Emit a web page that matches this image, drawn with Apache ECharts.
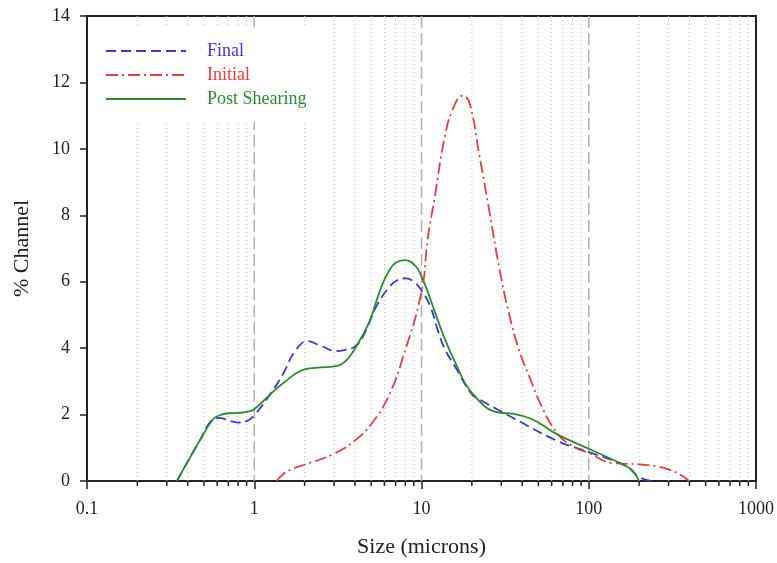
<!DOCTYPE html>
<html>
<head>
<meta charset="utf-8">
<script src="https://cdn.jsdelivr.net/npm/echarts@6/dist/echarts.min.js"></script>
<style>
html,body{margin:0;padding:0;background:#fff;}
#chart{width:777px;height:563px;}
</style>
</head>
<body>
<div id="chart"></div>
<script>
// ---- Data ----
const seriesNames = ['Final', 'Initial', 'Post Shearing'];

const finalSize = [0.345, 0.47, 0.565, 0.62, 0.7, 0.8, 0.9, 1.0, 1.24, 1.5, 1.75, 2.08, 2.5, 3.1, 3.5, 4.0, 4.47, 5.36, 6.44, 7.2, 8.1, 9.0, 9.8, 11.2, 12.5, 13.7, 15.8, 20, 22.2, 29, 35, 64, 100, 167, 200, 236];
const finalPct  = [0, 1.2, 1.85, 1.9, 1.82, 1.76, 1.8, 1.98, 2.6, 3.26, 3.9, 4.21, 4.07, 3.91, 3.95, 4.05, 4.35, 5.25, 5.85, 6.05, 6.1, 6.0, 5.8, 5.3, 4.55, 4.0, 3.46, 2.61, 2.46, 2.13, 1.91, 1.22, 0.87, 0.45, 0.12, 0];

const initialSize = [1.36, 1.5, 1.7, 2, 3, 4, 5, 6.3, 7.73, 10, 10.9, 11.96, 13.7, 15.4, 17.65, 19.35, 22.2, 25.5, 29.2, 33.5, 38.5, 45.2, 50.6, 64, 80, 100, 138, 200, 260, 300, 350, 398];
const initialPct  = [0, 0.22, 0.37, 0.49, 0.82, 1.22, 1.71, 2.51, 3.71, 5.7, 7.3, 8.5, 10.3, 11.2, 11.6, 11.39, 9.79, 8.1, 6.4, 5.0, 3.91, 3.01, 2.4, 1.47, 1.05, 0.84, 0.54, 0.5, 0.43, 0.35, 0.2, 0];

const postSize = [0.345, 0.47, 0.565, 0.62, 0.7, 0.8, 0.9, 1.0, 1.24, 1.5, 2.0, 2.5, 3.0, 3.5, 4.07, 4.89, 5.36, 5.87, 6.44, 7.0, 7.92, 9.3, 10, 10.7, 12.2, 13.5, 15.8, 20, 29, 35, 46, 64, 100, 167, 185, 200];
const postPct  = [0, 1.2, 1.85, 1.98, 2.04, 2.05, 2.08, 2.16, 2.6, 2.96, 3.36, 3.42, 3.45, 3.6, 4.05, 4.8, 5.4, 5.95, 6.35, 6.57, 6.65, 6.45, 6.15, 5.8, 5.0, 4.4, 3.6, 2.66, 2.06, 2.03, 1.86, 1.42, 0.97, 0.45, 0.28, 0];

const yTicks = [0, 2, 4, 6, 8, 10, 12, 14];
const xMajorTicks = ['0.1', '1', '10', '100', '1000'];
const majorGridValues = [1, 10, 100];
const minorTickValues = [0.2,0.3,0.4,0.5,0.6,0.7,0.8,0.9, 2,3,4,5,6,7,8,9, 20,30,40,50,60,70,80,90, 200,300,400,500,600,700,800,900];

// ---- Chart ----
const FONT = '"Liberation Serif", "Times New Roman", serif';
const colors = { 'Final': '#3a3ad6', 'Initial': '#e63e3e', 'Post Shearing': '#2e8a2e' };

function zip(xs, ys) { return xs.map((x, i) => [x, ys[i]]); }

function gridSeries(name, values, gridStyle, tickLen) {
  return {
    type: 'custom', name: name, silent: true, clip: false, z: 1,
    data: values.map(v => [v, 0]),
    encode: { x: 0, y: 1 },
    renderItem: function (params, api) {
      const v = api.value(0);
      const top = api.coord([v, yTicks[yTicks.length - 1]]);
      const bot = api.coord([v, yTicks[0]]);
      const children = [
        { type: 'line', shape: { x1: bot[0], y1: top[1], x2: bot[0], y2: bot[1] }, style: gridStyle }
      ];
      if (tickLen > 0) {
        children.push({ type: 'line', shape: { x1: bot[0], y1: bot[1], x2: bot[0], y2: bot[1] + tickLen },
          style: { stroke: '#222', lineWidth: 1.5 } });
      }
      return { type: 'group', children: children };
    }
  };
}

const chart = echarts.init(document.getElementById('chart'), null, { renderer: 'canvas' });

const option = {
  animation: false,
  backgroundColor: '#fff',
  grid: { left: 87, right: 20, top: 16, bottom: 79, show: true, borderColor: '#222', borderWidth: 2, backgroundColor: 'transparent' },
  legend: {
    data: seriesNames.map(n => ({ name: n, textStyle: { color: colors[n] } })),
    orient: 'vertical',
    left: 88, top: 27,
    padding: [15, 10, 14, 17],
    itemWidth: 80, itemHeight: 14, itemGap: 6,
    backgroundColor: '#fff',
    z: 5,
    itemStyle: { opacity: 0 },
    textStyle: { fontFamily: FONT, fontSize: 18, padding: [0, 0, 0, 16] },
    selectedMode: false
  },
  xAxis: {
    type: 'log', logBase: 10, min: 0.1, max: 1000,
    name: 'Size (microns)', nameLocation: 'middle', nameGap: 55,
    nameTextStyle: { fontFamily: FONT, fontSize: 22, color: '#222' },
    axisLine: { lineStyle: { color: '#222', width: 2 } },
    axisTick: { show: true, inside: false, length: 8, lineStyle: { color: '#222', width: 1.5 } },
    axisLabel: { fontFamily: FONT, fontSize: 18, color: '#222', margin: 19,
      formatter: v => { const s = String(+(+v).toPrecision(3)); return xMajorTicks.includes(s) ? s : ''; } },
    splitLine: { show: false }
  },
  yAxis: {
    type: 'value', min: yTicks[0], max: yTicks[yTicks.length - 1], interval: 2,
    name: '% Channel', nameLocation: 'middle', nameGap: 54,
    nameTextStyle: { fontFamily: FONT, fontSize: 22, color: '#222' },
    axisLine: { show: true, lineStyle: { color: '#222', width: 2 } },
    axisTick: { show: true, inside: false, length: 7, lineStyle: { color: '#222', width: 1.5 } },
    axisLabel: { fontFamily: FONT, fontSize: 18, color: '#222', margin: 17 },
    splitLine: { show: false }
  },
  series: [
    gridSeries('minorGrid', minorTickValues, { stroke: '#bdbdbd', lineWidth: 1, lineDash: [1, 3] }, 5),
    gridSeries('majorGrid', majorGridValues, { stroke: '#b0b0b0', lineWidth: 1.5, lineDash: [12, 5] }, 0),
    {
      name: 'Final', type: 'line', data: zip(finalSize, finalPct), smooth: 0.45, symbol: 'none', z: 3,
      lineStyle: { color: colors['Final'], width: 1.8, type: [10, 5] },
      itemStyle: { color: colors['Final'] }
    },
    {
      name: 'Initial', type: 'line', data: zip(initialSize, initialPct), smooth: 0.45, symbol: 'none', z: 3,
      lineStyle: { color: colors['Initial'], width: 1.8, type: [12, 4, 2, 4] },
      itemStyle: { color: colors['Initial'] }
    },
    {
      name: 'Post Shearing', type: 'line', data: zip(postSize, postPct), smooth: 0.45, symbol: 'none', z: 3,
      lineStyle: { color: colors['Post Shearing'], width: 1.8, type: 'solid' },
      itemStyle: { color: colors['Post Shearing'] }
    }
  ]
};

chart.setOption(option);
</script>
</body>
</html>
